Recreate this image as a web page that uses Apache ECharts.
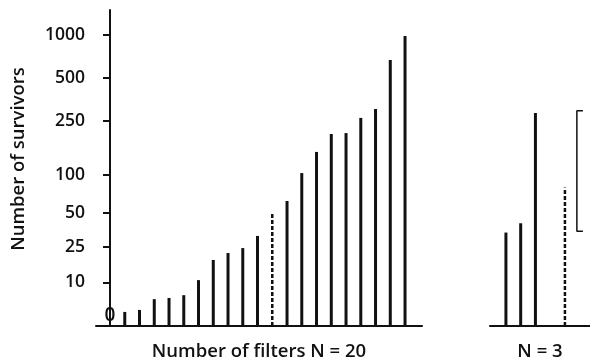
<!DOCTYPE html>
<html>
<head>
<meta charset="utf-8">
<script src="https://cdn.jsdelivr.net/npm/echarts@6/dist/echarts.min.js"></script>
<style>
  html, body { margin: 0; padding: 0; background: #fff; }
  #chart { width: 590px; height: 361px; }
</style>
</head>
<body>
<div id="chart"></div>
<script>
// survivors per filter count, N = 20 panel (index 11 is the dashed one)
const leftValues = [0, 2.5, 2.9, 5.3, 5.6, 6.3, 10.7, 18.5, 21.8, 24.4, 31.7, null,
  62.6, 103, 148, 200, 203, 261, 302, 669, 983];
const leftDashed = [[11, 50]];
// N = 3 panel
const rightValues = [34, 41, 283];
const rightDashed = [[4, 80]];
const bracketRange = [35, 293];
const tickValues = [10, 25, 50, 100, 250, 500, 1000];

// the y scale of the plate is roughly log(v + 10)
const toL = v => Math.log10(v + 10) - 1;
const fromL = l => Math.round(Math.pow(10, l + 1) - 10);

const font = 'Open Sans';
const black = '#111';
const txt = size => ({ fontSize: size, fontWeight: 600, color: black, fontFamily: font });

const yCommon = {
  type: 'value',
  min: 0,
  max: 2.176,
  splitLine: { show: false }
};

const option = {
  animation: false,
  backgroundColor: '#fff',
  textStyle: { fontFamily: font, color: black },
  grid: [
    { left: 96, top: 10, width: 326, bottom: 35, outerBoundsMode: 'none' },
    { left: 490, top: 10, width: 100, bottom: 35, outerBoundsMode: 'none' }
  ],
  xAxis: [
    {
      type: 'value', gridIndex: 0, min: -0.95, max: 21.15,
      axisLine: { show: true, onZero: false, lineStyle: { color: black, width: 2 } },
      axisTick: { show: false }, axisLabel: { show: false }, splitLine: { show: false },
      name: 'Number of filters N = 20', nameLocation: 'middle', nameGap: 16,
      nameTextStyle: txt(18.5)
    },
    {
      type: 'value', gridIndex: 1, min: -1.08, max: 5.7,
      axisLine: { show: true, onZero: false, lineStyle: { color: black, width: 2 } },
      axisTick: { show: false }, axisLabel: { show: false }, splitLine: { show: false },
      name: 'N = 3', nameLocation: 'middle', nameGap: 16,
      nameTextStyle: txt(18.5)
    }
  ],
  yAxis: [
    Object.assign({}, yCommon, {
      gridIndex: 0,
      axisLine: { show: true, lineStyle: { color: black, width: 2 } },
      axisTick: { show: true, length: 7, customValues: tickValues.map(toL), lineStyle: { color: black, width: 2 } },
      axisLabel: Object.assign(txt(17.5), {
        show: true, margin: 11,
        customValues: tickValues.map(toL), formatter: v => String(fromL(v))
      }),
      name: 'Number of survivors', nameLocation: 'middle', nameGap: 68, nameRotate: 90,
      nameTextStyle: Object.assign(txt(18.5), { padding: [0, 0, 0, 18] })
    }),
    Object.assign({}, yCommon, { gridIndex: 1, show: false })
  ],
  series: [
    {
      type: 'bar', xAxisIndex: 0, yAxisIndex: 0, barWidth: 3,
      itemStyle: { color: black },
      label: Object.assign(txt(19), { show: false, position: 'top', distance: 1, formatter: '0' }),
      data: leftValues.map((v, k) => v === null ? null :
        (v === 0 ? { value: [k, 0], label: { show: true } } : [k, toL(v)]))
    },
    ...leftDashed.map(d => ({
      type: 'line', xAxisIndex: 0, yAxisIndex: 0, symbol: 'none',
      lineStyle: { color: black, width: 2.5, type: [4, 2] },
      data: [[d[0], 0], [d[0], toL(d[1])]]
    })),
    {
      type: 'bar', xAxisIndex: 1, yAxisIndex: 1, barWidth: 3,
      itemStyle: { color: black },
      data: rightValues.map((v, k) => [k, toL(v)])
    },
    ...rightDashed.map(d => ({
      type: 'line', xAxisIndex: 1, yAxisIndex: 1, symbol: 'none',
      lineStyle: { color: black, width: 2.5, type: [4, 2] },
      data: [[d[0], 0], [d[0], toL(d[1])]]
    })),
    {
      type: 'line', xAxisIndex: 1, yAxisIndex: 1, symbol: 'none',
      lineStyle: { color: black, width: 1.5 },
      data: [[5.22, toL(bracketRange[1])], [4.81, toL(bracketRange[1])],
             [4.81, toL(bracketRange[0])], [5.22, toL(bracketRange[0])]]
    }
  ]
};

echarts.init(document.getElementById('chart')).setOption(option);
</script>
</body>
</html>
